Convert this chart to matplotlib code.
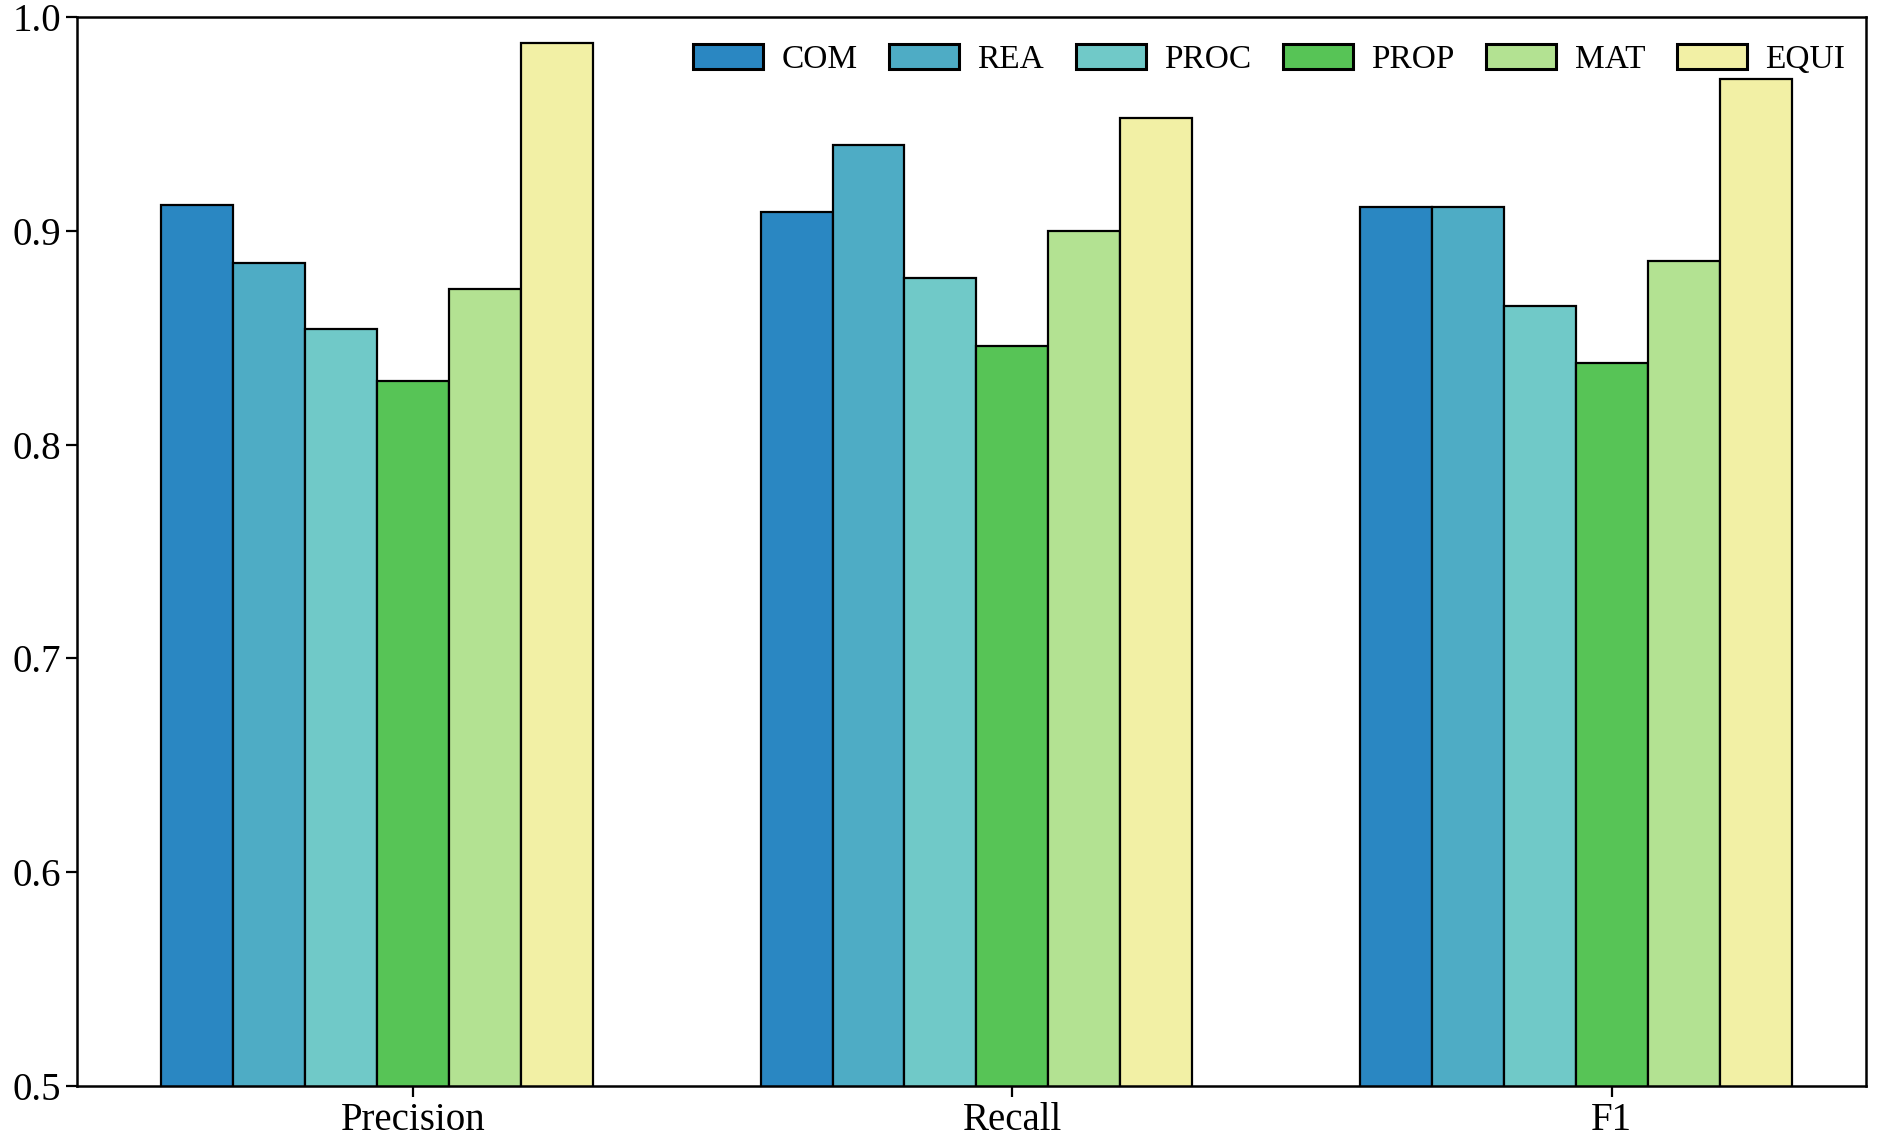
import numpy as np
import matplotlib.pyplot as plt

plt.rcParams['font.family'] = ['Liberation Serif', 'DejaVu Serif']

# --- data ---
metrics = ['Precision', 'Recall', 'F1']
classes = ['COM', 'REA', 'PROC', 'PROP', 'MAT', 'EQUI']
com = [0.912, 0.909, 0.911]
rea = [0.885, 0.940, 0.911]
proc = [0.854, 0.878, 0.865]
prop = [0.830, 0.846, 0.838]
mat = [0.873, 0.900, 0.886]
equi = [0.988, 0.953, 0.971]
colors = ['#2a87c2', '#4eacc5', '#70c9c8', '#57c456', '#b3e292', '#f2f0a5']

series = [com, rea, proc, prop, mat, equi]

fig = plt.figure(figsize=(18.82, 11.43), dpi=100)
ax = fig.add_axes([0.041, 0.050, 0.9505, 0.935])

x = np.arange(len(metrics))
w = 0.12
for i, (name, vals) in enumerate(zip(classes, series)):
    # groups sit slightly left of the tick, as in the original
    offs = (i - 3) * w
    ax.bar(x + offs, vals, w, color=colors[i], edgecolor='black',
           linewidth=1.6, label=name)

ax.set_ylim(0.5, 1.0)
ax.set_xlim(-0.56, 2.424)
ax.set_xticks(x)
ax.set_xticklabels(metrics)
ax.set_yticks([0.5, 0.6, 0.7, 0.8, 0.9, 1.0])
ax.tick_params(axis='both', labelsize=28, width=1.6, length=8)
for s in ax.spines.values():
    s.set_linewidth(1.8)

leg = ax.legend(loc='upper right', ncol=6, frameon=False, fontsize=24,
                handlelength=2.1, handleheight=0.78, columnspacing=0.95,
                handletextpad=0.55, bbox_to_anchor=(1.005, 1.003))
for h in leg.legend_handles:
    h.set_linewidth(2.2)

fig.savefig('out.png', dpi=100)
